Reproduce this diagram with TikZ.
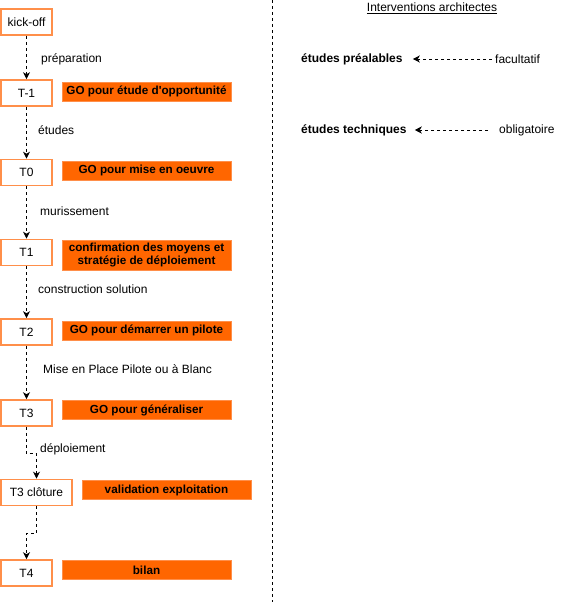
\documentclass[tikz,border=0pt]{standalone}
\usepackage{fontspec}
\setmainfont{Liberation Sans}
\usetikzlibrary{arrows.meta}
\definecolor{orng}{HTML}{FF6600}
\definecolor{orngline}{HTML}{FF8F4A}
\tikzset{
	jalon/.style={draw=orngline, line width=1.6pt, fill=white, minimum width=51pt, minimum height=26pt, inner sep=1pt, font=\fontsize{12}{14}\selectfont},
	gobox/.style={draw=orngline, line width=0.8pt, fill=orng, minimum width=169pt, minimum height=19pt, inner sep=1pt, align=center, font=\fontsize{11.7}{13.5}\selectfont\bfseries},
	etape/.style={anchor=west, inner sep=1pt, font=\fontsize{12}{14}\selectfont},
	fleche/.style={draw=black, line width=0.8pt, dash pattern=on 3pt off 3pt, -{Stealth[length=7pt, width=7pt, inset=2pt]}}
}
\begin{document}
\begin{tikzpicture}[x=1pt, y=-1pt]
			%%%%% START %%%%%
			
			\useasboundingbox (0, 0) rectangle (562, 602);
			
			\node[jalon] (kickoff) at (26.5, 22) {kick-off};
			\node[jalon] (tm1) at (26.5, 93) {T-1};
			\node[jalon] (t0) at (26.5, 172.5) {T0};
			\node[jalon] (t1) at (26.5, 252.5) {T1};
			\node[jalon] (t2) at (26.5, 332) {T2};
			\node[jalon] (t3) at (26.5, 413) {T3};
			\node[jalon, minimum width=71pt] (t3clot) at (36.5, 492.5) {T3 clôture};
			\node[jalon] (t4) at (26.5, 573) {T4};
			
			\node[gobox] (gotm1) at (146.5, 91.5) {GO pour étude d\textquotesingle opportunité};
			\node[gobox] (got0) at (146.5, 170.5) {GO pour mise en oeuvre};
			\node[gobox, minimum height=30pt] (got1) at (146.5, 255) {confirmation des moyens et\\stratégie de déploiement};
			\node[gobox] (got2) at (146.5, 330.5) {GO pour démarrer un pilote};
			\node[gobox] (got3) at (146.5, 410) {GO pour généraliser};
			\node[gobox] (goclot) at (166.5, 490) {validation exploitation};
			\node[gobox] (got4) at (146.5, 570) {bilan};
			
			\draw[fleche] (kickoff) -- (tm1);
			\draw[fleche] (tm1) -- (t0);
			\draw[fleche] (t0) -- (t1);
			\draw[fleche] (t1) -- (t2);
			\draw[fleche] (t2) -- (t3);
			\draw[fleche] (t3.south) -- ++(0, 27) -| (t3clot.north);
			\draw[fleche] (t3clot.south) -- ++(0, 27) -| (t4.north);
			
			\node[etape] (lprep) at (40, 59) {préparation};
			\node[etape] (letud) at (37, 130) {études};
			\node[etape] (lmuri) at (39, 211) {murissement};
			\node[etape] (lcons) at (37, 289) {construction solution};
			\node[etape] (lmep) at (42, 369) {Mise en Place Pilote ou à Blanc};
			\node[etape] (ldepl) at (39, 449) {déploiement};
			
			% separation
			\coordinate (sephaut) at (272, 0);
			\coordinate (sepbas) at (272, 602);
			\draw[line width=0.8pt, dash pattern=on 3pt off 3pt] (sephaut) -- (sepbas);
			
			\node[inner sep=1pt, font=\fontsize{12}{14}\selectfont] (titre) at (432, 8) {\underline{Interventions architectes}};
			
			\node[etape, font=\fontsize{12}{14}\selectfont\bfseries] (prealab) at (300, 59) {études préalables};
			\node[etape] (facult) at (494, 59) {facultatif};
			\draw[fleche, shorten >=9pt, shorten <=2pt] (facult) -- (prealab);
			
			\node[etape, font=\fontsize{12}{14}\selectfont\bfseries] (techn) at (300, 130) {études techniques};
			\node[etape] (oblig) at (498, 130) {obligatoire};
			\draw[fleche, shorten >=7pt, shorten <=10pt] (oblig) -- (techn);
			
			%%%%% END %%%%%
\end{tikzpicture}
\end{document}
